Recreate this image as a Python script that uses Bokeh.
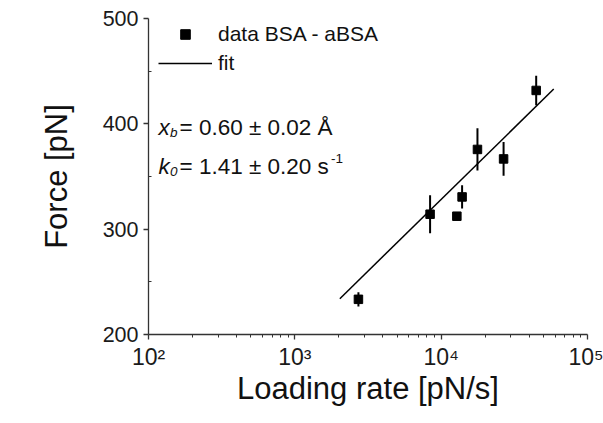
from bokeh.plotting import figure
from bokeh.models import (ColumnDataSource, Label, Legend, LegendItem, FixedTicker)
from bokeh.embed import file_html
from bokeh.resources import INLINE

# ---- data ----
rate = [2720, 8400, 12800, 13900, 17700, 26700, 44600]          # pN/s
force = [233.4, 314.2, 312.3, 330.6, 375.7, 366.7, 431.7]       # pN
force_err = [6.7, 18.0, 3.0, 11.0, 20.0, 16.0, 14.0]            # pN
fit_rate = [2030, 58800]
fit_force = [234.0, 433.0]

x_ticks = [100, 1000, 10000, 100000]
x_tick_labels = ["10\u00b2", "10\u00b3", "10\u2074", "10\u2075"]
y_ticks = [200, 300, 400, 500]
y_minor = [250, 350, 450]

legend_labels = ["data BSA - aBSA", "fit"]
FONT = "Liberation Sans"

src = ColumnDataSource(dict(
    x=rate, y=force,
    lo=[f - e for f, e in zip(force, force_err)],
    hi=[f + e for f, e in zip(force, force_err)],
))

p = figure(width=603, height=423, x_axis_type="log",
           x_range=(100, 100000), y_range=(200, 500),
           output_backend="svg", toolbar_location=None,
           min_border_left=148, min_border_right=16,
           min_border_top=18, min_border_bottom=89,
           background_fill_color="white", border_fill_color="white")
p.outline_line_color = None
p.xgrid.visible = False
p.ygrid.visible = False

# error bars, points, fit
p.segment(x0="x", y0="lo", x1="x", y1="hi", source=src, line_color="black", line_width=2)
r_pts = p.scatter(x="x", y="y", source=src, marker="square", size=8.5,
                  fill_color="black", line_color="black")
r_fit = p.line(fit_rate, fit_force, line_color="black", line_width=1.5)

# axes
minor_x = [m * t for t in x_ticks[:-1] for m in range(2, 10)]
p.xaxis.ticker = FixedTicker(ticks=x_ticks, minor_ticks=minor_x)
p.xaxis.major_label_overrides = {t: s for t, s in zip(x_ticks, x_tick_labels)}
p.yaxis.ticker = FixedTicker(ticks=y_ticks, minor_ticks=y_minor)

for ax in (p.xaxis, p.yaxis):
    ax.axis_line_color = "#333333"
    ax.axis_line_width = 1.3
    ax.major_tick_line_color = "#333333"
    ax.minor_tick_line_color = "#333333"
    ax.major_tick_line_width = 1.3
    ax.major_label_text_font = FONT
    ax.major_label_text_font_size = "21.5px"
    ax.major_label_text_color = "#1a1a1a"
    ax.axis_label_text_font = FONT
    ax.axis_label_text_font_size = "31px"
    ax.axis_label_text_font_style = "normal"
    ax.axis_label_text_color = "#111111"
    ax.major_tick_in = 0

p.xaxis.major_label_text_font_size = "23px"
p.xaxis.major_tick_out = 5
p.xaxis.minor_tick_out = 3
p.xaxis.minor_tick_in = 0
p.xaxis.major_label_standoff = 4
p.xaxis.axis_label = "Loading rate [pN/s]"
p.xaxis.axis_label_standoff = -2

p.yaxis.major_tick_out = 5
p.yaxis.minor_tick_out = 0
p.yaxis.minor_tick_in = 3
p.yaxis.major_label_standoff = 5
p.yaxis.axis_label = "Force [pN]"
p.yaxis.axis_label_standoff = 26

# legend
legend = Legend(items=[LegendItem(label=legend_labels[0], renderers=[r_pts]),
                       LegendItem(label=legend_labels[1], renderers=[r_fit])],
                location=(10, 259), glyph_width=54, glyph_height=24,
                label_height=24, spacing=5, padding=0, margin=0,
                border_line_color=None, background_fill_alpha=0,
                label_text_font=FONT, label_text_font_size="21px",
                label_standoff=6, label_text_color="#111111")
p.add_layout(legend)

# fit parameter annotation
def lab(x, y, text, size="22.5px", style="normal"):
    p.add_layout(Label(x=x, y=y, x_units="screen", y_units="screen", text=text,
                       text_font=FONT, text_font_size=size, text_font_style=style,
                       text_baseline="alphabetic", text_align="left",
                       text_color="#111111"))

lab(10, 207, "x", style="italic")
lab(21.5, 202, "b", size="13.5px", style="italic")
lab(31, 207, "= 0.60 \u00b1 0.02 \u00c5")
lab(10, 168, "k", style="italic")
lab(21.5, 163, "0", size="13.5px", style="italic")
lab(31, 168, "= 1.41 \u00b1 0.20 s")
lab(182.5, 176, "-1", size="13.5px")

# panel tag
p.add_layout(Label(x=-135, y=-92, x_units="screen", y_units="screen", text="a)",
                   text_font="Liberation Serif", text_font_size="28px",
                   text_baseline="alphabetic", text_color="#111111"))

open("out.html", "w").write(file_html(p, INLINE))
